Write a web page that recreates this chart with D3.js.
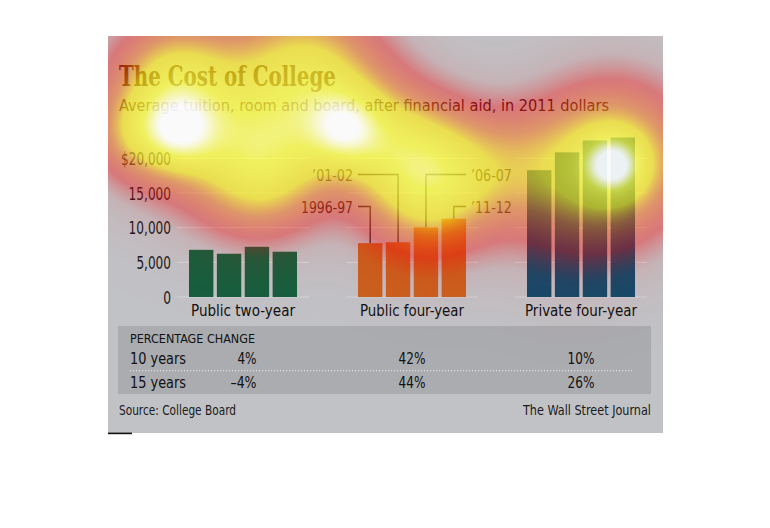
<!DOCTYPE html>
<html><head><meta charset="utf-8">
<script src="https://cdn.jsdelivr.net/npm/d3@7/dist/d3.min.js"></script>
<style>
html,body{margin:0;padding:0;background:#fff;}
#wrap{position:relative;width:770px;height:528px;}
#wrap svg,#wrap canvas{position:absolute;left:0;top:0;}
#wrap canvas{pointer-events:none;}
</style></head><body><div id="wrap"></div>
<script>
// ---------- data ----------
const groups = ["Public two-year", "Public four-year", "Private four-year"];
const years = ["1996-97", "2001-02", "2006-07", "2011-12"];
const publicTwoYear = [6800, 6240, 7240, 6530];
const publicFourYear = [7760, 7900, 10040, 11290];
const privateFourYear = [18290, 20860, 22570, 23000];
const yTicks = [0, 5000, 10000, 15000, 20000];
const yearLabels = ["1996-97", "’01-02", "’06-07", "’11-12"];
const changeRows = ["10 years", "15 years"];
const change10 = ["4%", "42%", "10%"];
const change15 = ["–4%", "44%", "26%"];
// attention (eye-tracking) overlay: [x, y, weight, spread] in page pixels
const heatPoints = [
  [190,115,0.50,58],[320,105,0.50,55],[440,170,0.50,47],[260,170,0.40,45],
  [612,160,0.65,55],[520,165,0.20,42],[420,205,0.25,45],[560,225,0.10,50],
  [260,200,0.08,40],[300,50,0.25,50],[170,75,0.30,40],[135,135,0.25,30],
  [390,140,0.25,40],
  [180,132,0.34,25],[345,128,0.34,25],[613,165,0.42,20]
];

const series = [publicTwoYear, publicFourYear, privateFourYear];
const colors = ["#155f3e", "#c8621f", "#0f4b6c"];

const W = 770, H = 528;
const panel = {x:108, y:36, w:555, h:397};
const SANS = "'DejaVu Sans Condensed','DejaVu Sans',sans-serif";
const SERIF = "'DejaVu Serif Condensed','DejaVu Serif',serif";
const charW = {"0":7.8,"1":7.8,"2":7.8,"3":7.8,"4":7.8,"5":7.8,"6":7.8,"7":7.8,"8":7.8,"9":7.8,
  ",":3.4,"$":7.5,"-":5.2,"’":4.5,"%":11.3,"–":7};
const widthOf = s => Array.from(s).reduce((a,c) => a + (charW[c] || 7.8), 0);
const fit = (sel, w) => sel.attr("textLength", w).attr("lengthAdjust", "spacingAndGlyphs");

const wrap = d3.select("#wrap");
const svg = wrap.append("svg").attr("width", W).attr("height", H);

svg.append("rect").attr("x",panel.x).attr("y",panel.y).attr("width",panel.w).attr("height",panel.h).attr("fill","#c1c2c6");
svg.append("rect").attr("x",108).attr("y",432.6).attr("width",24).attr("height",1.6).attr("fill","#111");

// title
fit(svg.append("text").attr("x",119).attr("y",86).text("The Cost of College")
  .attr("font-family",SERIF).attr("font-weight","bold").attr("font-size",28)
  .attr("fill","#4a1204"), 217);
fit(svg.append("text").attr("x",119).attr("y",111).text("Average tuition, room and board, after financial aid, in 2011 dollars")
  .attr("font-family",SANS).attr("font-size",16.5).attr("fill","#3e0c14"), 490);

// scales
const y = d3.scaleLinear().domain([0, 20000]).range([297, 158.3]);
const xg = d3.scaleBand().domain(groups).range([177, 647]).paddingInner(0.219).paddingOuter(0);
const xb = d3.scaleBand().domain(years).range([12, 120]).paddingInner(0.125);

// gridlines
const g = svg.append("g");
groups.forEach(grp => {
  g.selectAll(null).data(yTicks).enter().append("line")
    .attr("x1", xg(grp)).attr("x2", xg(grp) + xg.bandwidth())
    .attr("y1", d => y(d)).attr("y2", d => y(d))
    .attr("stroke", "#d3d4d7").attr("stroke-width", 1.2);
});

// y axis
const fmtTick = d => (d === 20000 ? "$" : "") + d3.format(",")(d);
const yAxis = d3.axisLeft(y).tickValues(yTicks).tickSize(0).tickPadding(0).tickFormat(fmtTick);
const ya = svg.append("g").attr("transform","translate(171,0)").call(yAxis);
ya.select(".domain").remove();
ya.selectAll("text").attr("font-family",SANS).attr("font-size",17).attr("fill","#1c1a22").attr("dy","0.36em")
  .attr("textLength", d => widthOf(fmtTick(d))).attr("lengthAdjust","spacingAndGlyphs");

// bars
const catW = [104, 104, 112];
groups.forEach((grp, gi) => {
  const gg = svg.append("g").attr("transform",`translate(${xg(grp)},0)`);
  gg.selectAll("rect").data(series[gi]).enter().append("rect")
    .attr("x", (d,i) => xb(years[i])).attr("width", xb.bandwidth())
    .attr("y", d => y(d)).attr("height", d => y(0) - y(d))
    .attr("fill", colors[gi]);
  fit(svg.append("text").attr("x", xg(grp) + xg.bandwidth()/2).attr("y", 316)
    .attr("text-anchor","middle").text(grp)
    .attr("font-family",SANS).attr("font-size",16.5).attr("fill","#111"), catW[gi]);
});

// annotations on public four-year
const annG = svg.append("g").attr("transform",`translate(${xg(groups[1])},0)`);
const lowLevel = 206.5, highLevel = 174.5;
publicFourYear.forEach((v, i) => {
  const cx = xb(years[i]) + xb.bandwidth()/2;
  const top = y(v);
  const level = (i === 0 || i === 3) ? lowLevel : highLevel;
  const left = i < 2;
  const xs = left ? xb(years[0]) : xb(years[3]) + xb.bandwidth();
  annG.append("path")
    .attr("d", left ? `M${xs},${level}H${cx}V${top}` : `M${cx},${top}V${level}H${xs}`)
    .attr("fill","none").attr("stroke","#2e2424").attr("stroke-width",1.3);
  fit(annG.append("text").attr("x", left ? xs - 5 : xs + 5).attr("y", level + 6.3)
    .attr("text-anchor", left ? "end" : "start").text(yearLabels[i])
    .attr("font-family",SANS).attr("font-size",16.5).attr("fill","#3a2220"), widthOf(yearLabels[i]));
});

// percentage change table
svg.append("rect").attr("x",118).attr("y",326).attr("width",533).attr("height",68).attr("fill","#aaacb0");
fit(svg.append("text").attr("x",130).attr("y",343).text("PERCENTAGE CHANGE")
  .attr("font-family",SANS).attr("font-size",12.5).attr("fill","#111"), 125);
svg.append("line").attr("x1",130).attr("x2",634).attr("y1",370.7).attr("y2",370.7)
  .attr("stroke","#dcdde0").attr("stroke-width",1.2).attr("stroke-dasharray","1.2,1.8");
[change10, change15].forEach((row, ri) => {
  const by = ri === 0 ? 364 : 387.5;
  fit(svg.append("text").attr("x",130).attr("y",by).text(changeRows[ri])
    .attr("font-family",SANS).attr("font-size",16.5).attr("fill","#111"), 56);
  row.forEach((t, gi) => {
    fit(svg.append("text").attr("x", xg(groups[gi]) + xg.bandwidth()/2 + 13.5).attr("y", by)
      .attr("text-anchor","end").text(t)
      .attr("font-family",SANS).attr("font-size",16.5).attr("fill","#111"), widthOf(t));
  });
});

// footer
fit(svg.append("text").attr("x",119).attr("y",415).text("Source: College Board")
  .attr("font-family",SANS).attr("font-size",13.5).attr("fill","#1a1a1a"), 117);
fit(svg.append("text").attr("x",651).attr("y",415).attr("text-anchor","end").text("The Wall Street Journal")
  .attr("font-family",SANS).attr("font-size",13.5).attr("fill","#1a1a1a"), 128);

// ---------- attention heat overlay ----------
const canvas = wrap.append("canvas").attr("width",W).attr("height",H).node();
const ctx = canvas.getContext("2d");
const img = ctx.createImageData(panel.w, panel.h);
const stops = [
  [0.00, [250,0,0,0.0]],
  [0.10, [250,0,0,0.08]],
  [0.22, [250,10,10,0.40]],
  [0.40, [250,110,20,0.52]],
  [0.56, [255,235,20,0.66]],
  [0.80, [255,255,60,0.75]],
  [0.95, [255,255,220,0.88]],
  [1.00, [255,255,255,0.92]]
];
function ramp(t){
  for (let k = 1; k < stops.length; k++){
    if (t <= stops[k][0]){
      const a = stops[k-1], b = stops[k];
      const f = (t - a[0]) / (b[0] - a[0]);
      return a[1].map((v,j) => v + (b[1][j]-v)*f);
    }
  }
  return stops[stops.length-1][1];
}
for (let py = 0; py < panel.h; py++){
  for (let px = 0; px < panel.w; px++){
    const X = px + panel.x, Y = py + panel.y;
    let s = 0;
    for (const [hx,hy,w,sg] of heatPoints){
      const dx = X-hx, dy = Y-hy;
      s += w * Math.exp(-(dx*dx+dy*dy)/(2*sg*sg));
    }
    const c = ramp(Math.min(1, s));
    const o = (py*panel.w + px)*4;
    img.data[o] = c[0]; img.data[o+1] = c[1]; img.data[o+2] = c[2]; img.data[o+3] = Math.round(c[3]*255);
  }
}
ctx.putImageData(img, panel.x, panel.y);
</script></body></html>
